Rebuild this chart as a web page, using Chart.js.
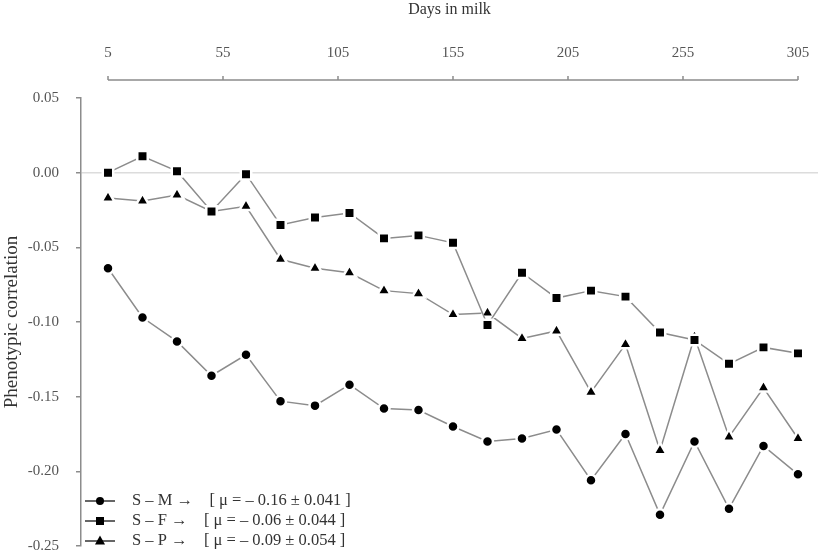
<!DOCTYPE html>
<html>
<head>
<meta charset="utf-8">
<script src="https://cdn.jsdelivr.net/npm/chart.js@4.4.0/dist/chart.umd.min.js"></script>
<style>
  html, body { margin: 0; padding: 0; background: #fff; }
</style>
</head>
<body>
<canvas id="corrChart" width="827" height="554"></canvas>
<script>
// days in milk (test days every 15 d)
const days = [5, 20, 35, 50, 65, 80, 95, 110, 125, 140, 155, 170, 185, 200, 215, 230, 245, 260, 275, 290, 305];

// phenotypic correlations
const smValues = [-0.064, -0.097, -0.113, -0.136, -0.122, -0.153, -0.156, -0.142, -0.158, -0.159, -0.170,
  -0.180, -0.178, -0.172, -0.206, -0.175, -0.229, -0.180, -0.225, -0.183, -0.202];
const sfValues = [0.000, 0.011, 0.001, -0.026, -0.001, -0.035, -0.030, -0.027, -0.044, -0.042, -0.047,
  -0.102, -0.067, -0.084, -0.079, -0.083, -0.107, -0.112, -0.128, -0.117, -0.121];
const spValues = [-0.017, -0.019, -0.015, -0.026, -0.0225, -0.058, -0.064, -0.067, -0.079, -0.081, -0.095,
  -0.094, -0.111, -0.106, -0.147, -0.115, -0.186, -0.110, -0.177, -0.144, -0.178];

const seriesNames = [
  "S \u2013 M \u2192    [ \u03bc = \u2013 0.16 \u00b1 0.041 ]",
  "S \u2013 F \u2192    [ \u03bc = \u2013 0.06 \u00b1 0.044 ]",
  "S \u2013 P \u2192    [ \u03bc = \u2013 0.09 \u00b1 0.054 ]"
];
const seriesMarkers = ["circle", "rect", "triangle"];

const xTickValues = [5, 55, 105, 155, 205, 255, 305];
const yTickValues = [0.05, 0, -0.05, -0.10, -0.15, -0.20, -0.25];

const serif = "'Liberation Serif', 'Times New Roman', serif";
const lineGray = "#8c8c8c";

function toPoints(values) {
  return values.map((v, i) => ({ x: days[i], y: v }));
}

// keep tick labels from pushing the plot area in
function noScalePadding(scale) {
  scale.paddingTop = 0;
  scale.paddingBottom = 0;
  scale.paddingLeft = 0;
  scale.paddingRight = 0;
}

// top axis line only spans 5..305, drawn above the plot area
const topAxisPlugin = {
  id: "topAxis",
  afterDraw(chart) {
    const ctx = chart.ctx;
    const xs = chart.scales.x;
    const y = chart.chartArea.top - 18;
    ctx.save();
    ctx.strokeStyle = lineGray;
    ctx.lineWidth = 1.5;
    ctx.beginPath();
    ctx.moveTo(xs.getPixelForValue(xTickValues[0]), y);
    ctx.lineTo(xs.getPixelForValue(xTickValues[xTickValues.length - 1]), y);
    xTickValues.forEach(v => {
      const px = xs.getPixelForValue(v);
      ctx.moveTo(px, y);
      ctx.lineTo(px, y - 4);
    });
    ctx.stroke();
    ctx.restore();
  }
};

function drawMarker(ctx, style, x, y) {
  ctx.fillStyle = "#000";
  ctx.beginPath();
  if (style === "circle") {
    ctx.arc(x, y, 4, 0, Math.PI * 2);
  } else if (style === "rect") {
    ctx.rect(x - 4, y - 4, 8, 8);
  } else {
    ctx.moveTo(x, y - 5.5);
    ctx.lineTo(x + 5, y + 3.5);
    ctx.lineTo(x - 5, y + 3.5);
    ctx.closePath();
  }
  ctx.fill();
}

const legendPlugin = {
  id: "cornerLegend",
  afterDraw(chart) {
    const ctx = chart.ctx;
    const left = chart.chartArea.left;
    const rows = [501, 521, 541];
    ctx.save();
    ctx.font = "16.5px " + serif;
    ctx.textBaseline = "middle";
    seriesNames.forEach((name, i) => {
      const y = rows[i];
      ctx.strokeStyle = "#333";
      ctx.lineWidth = 1.5;
      ctx.beginPath();
      ctx.moveTo(left + 4, y);
      ctx.lineTo(left + 34, y);
      ctx.stroke();
      drawMarker(ctx, seriesMarkers[i], left + 19, y);
      ctx.fillStyle = "#333";
      ctx.fillText(name, left + 51, y);
    });
    ctx.restore();
  }
};

function makeDataset(label, values, style, radius) {
  return {
    label: label,
    data: toPoints(values),
    borderColor: lineGray,
    borderWidth: 1.5,
    tension: 0,
    fill: false,
    pointStyle: style,
    pointRadius: radius,
    pointBackgroundColor: "#000",
    pointBorderColor: "#fff",
    pointBorderWidth: 2.5
  };
}

const ctx = document.getElementById("corrChart").getContext("2d");
const corrChart = new Chart(ctx, {
  type: "line",
  data: {
    datasets: [
      makeDataset(seriesNames[0], smValues, "circle", 5.5),
      makeDataset(seriesNames[1], sfValues, "rect", 7.4),
      makeDataset(seriesNames[2], spValues, "triangle", 7.6)
    ]
  },
  options: {
    responsive: false,
    animation: false,
    devicePixelRatio: 1,
    layout: { autoPadding: false, padding: { left: 0, right: 9, top: 0, bottom: 8 } },
    plugins: {
      legend: { display: false },
      tooltip: { enabled: false }
    },
    scales: {
      x: {
        type: "linear",
        position: "top",
        min: -6.74,
        max: 313.7,
        grid: { display: false, drawTicks: false },
        border: { display: false },
        afterBuildTicks: scale => {
          scale.ticks = xTickValues.map(v => ({ value: v }));
        },
        afterFit: scale => {
          scale.height = 98;
          noScalePadding(scale);
        },
        ticks: {
          autoSkip: false,
          maxRotation: 0,
          padding: 36,
          color: "#555",
          font: { family: serif, size: 15 }
        },
        title: {
          display: true,
          text: "Days in milk",
          color: "#333",
          padding: { top: 0, bottom: 0 },
          font: { family: serif, size: 16 }
        }
      },
      y: {
        min: -0.25,
        max: 0.05,
        afterBuildTicks: scale => {
          scale.ticks = yTickValues.map(v => ({ value: v }));
        },
        afterFit: scale => {
          scale.width = 81;
          noScalePadding(scale);
        },
        grid: {
          color: c => (c.tick && Math.abs(c.tick.value) < 1e-9 ? "#dcdcdc" : "rgba(0,0,0,0)"),
          lineWidth: 1.5,
          tickColor: lineGray,
          tickLength: 5
        },
        border: { display: true, color: lineGray, width: 1.5 },
        ticks: {
          padding: 17,
          color: "#555",
          font: { family: serif, size: 15 },
          callback: v => (Math.abs(v) < 1e-9 ? "0.00" : v.toFixed(2))
        },
        title: {
          display: true,
          text: "Phenotypic correlation",
          color: "#333",
          padding: { top: 1, bottom: 0 },
          font: { family: serif, size: 19 }
        }
      }
    }
  },
  plugins: [topAxisPlugin, legendPlugin]
});
</script>
</body>
</html>
